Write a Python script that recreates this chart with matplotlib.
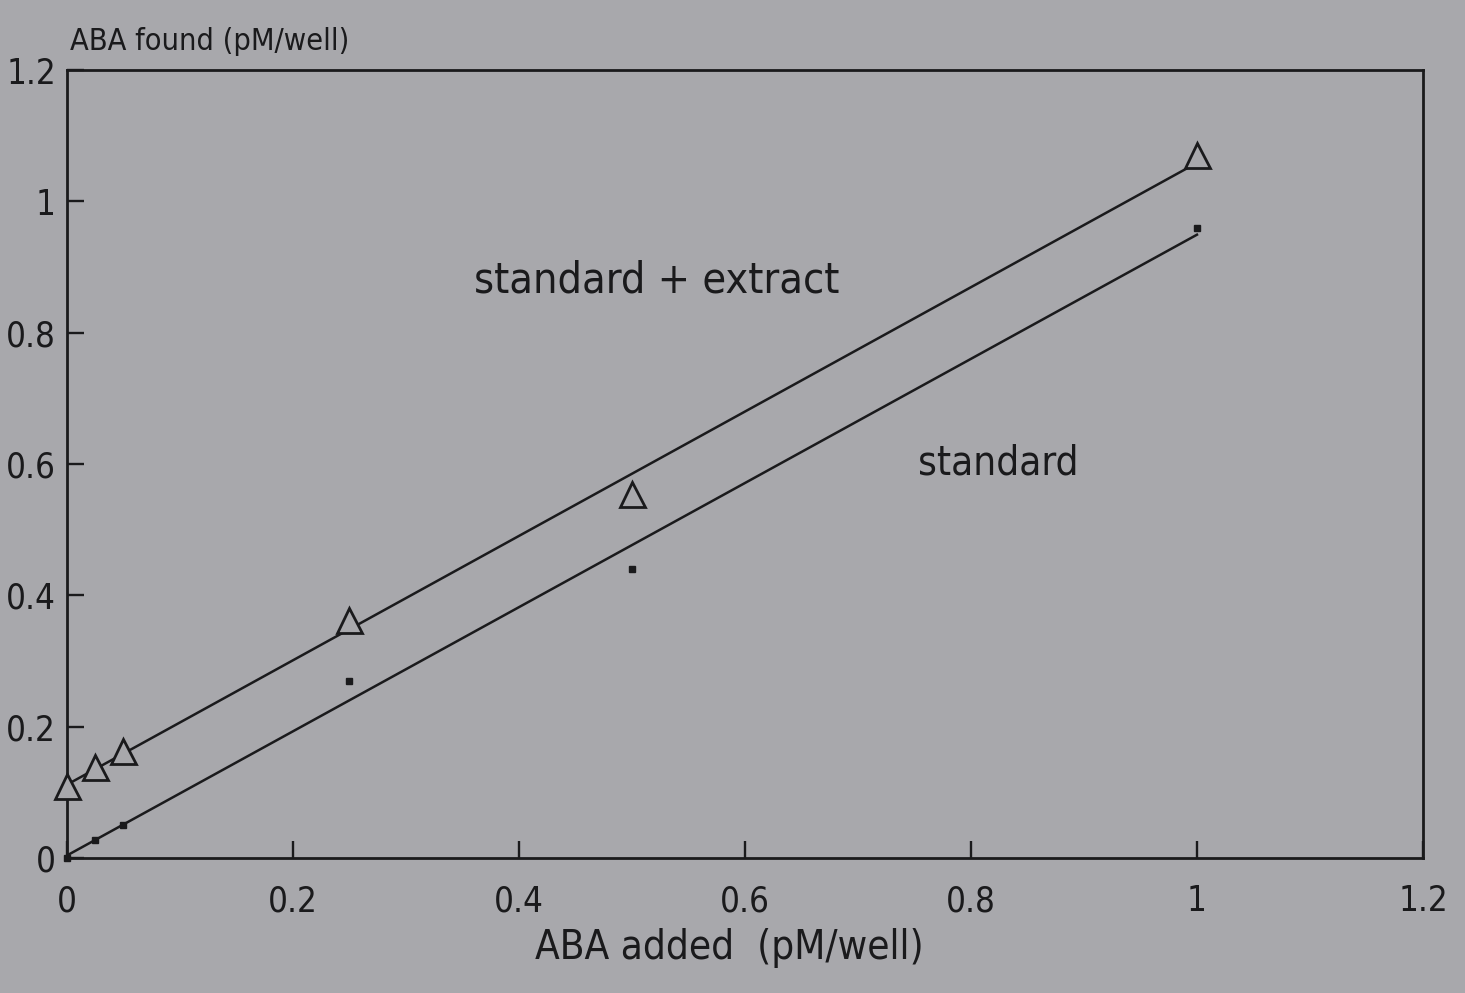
import numpy as np
import matplotlib
matplotlib.use('Agg')
import matplotlib.pyplot as plt

# ABA recovery: amount added vs amount found (pM/well)
aba_added = [0.0, 0.025, 0.05, 0.25, 0.5, 1.0]
found_standard = [0.0, 0.028, 0.05, 0.27, 0.44, 0.96]
found_extract = [0.11, 0.138, 0.163, 0.362, 0.555, 1.07]

x_ticks = [0, 0.2, 0.4, 0.6, 0.8, 1, 1.2]
y_ticks = [0, 0.2, 0.4, 0.6, 0.8, 1, 1.2]
tick_labels = ['0', '0.2', '0.4', '0.6', '0.8', '1', '1.2']

bg = '#a8a8ac'
ink = '#1a1a1c'

plt.rcParams['font.family'] = ['DejaVu Sans']
plt.rcParams['font.stretch'] = 'condensed'

fig = plt.figure(figsize=(14.65, 9.93), dpi=100, facecolor=bg)
ax = fig.add_axes([0.0457, 0.136, 0.9256, 0.7935])
ax.set_facecolor(bg)

# regression lines through each series
xs = np.array(aba_added)
for ys in (found_standard, found_extract):
    slope, icpt = np.polyfit(xs, ys, 1)
    ax.plot([xs[0], xs[-1]], [icpt + slope * xs[0], icpt + slope * xs[-1]],
            color=ink, lw=1.8, zorder=2)

ax.plot(aba_added, found_extract, linestyle='none', marker='^', ms=18,
        mfc=bg, mec=ink, mew=2.0, zorder=3, clip_on=False)
ax.plot(aba_added, found_standard, linestyle='none', marker='s', ms=5,
        mfc=ink, mec=ink, zorder=3, clip_on=False)

ax.set_xlim(0, 1.2)
ax.set_ylim(0, 1.2)
ax.set_xticks(x_ticks)
ax.set_xticklabels(tick_labels)
ax.set_yticks(y_ticks)
ax.set_yticklabels(tick_labels)
ax.tick_params(direction='in', length=12, width=1.7, colors=ink,
               labelsize=25, top=False, right=False)
ax.tick_params(axis='x', pad=19)
ax.tick_params(axis='y', pad=8)
for side in ax.spines.values():
    side.set_color(ink)
    side.set_linewidth(2.0)

fig.text(0.498, 0.045, 'ABA added  (pM/well)', fontsize=29, color=ink,
         ha='center', va='center')
fig.text(0.048, 0.958, 'ABA found (pM/well)', fontsize=22, color=ink,
         ha='left', va='center')

ax.text(0.522, 0.880, 'standard + extract', fontsize=31, color=ink,
        ha='center', va='center')
ax.text(0.824, 0.600, 'standard', fontsize=29, color=ink,
        ha='center', va='center')

fig.savefig('out.png', dpi=100, facecolor=bg)
